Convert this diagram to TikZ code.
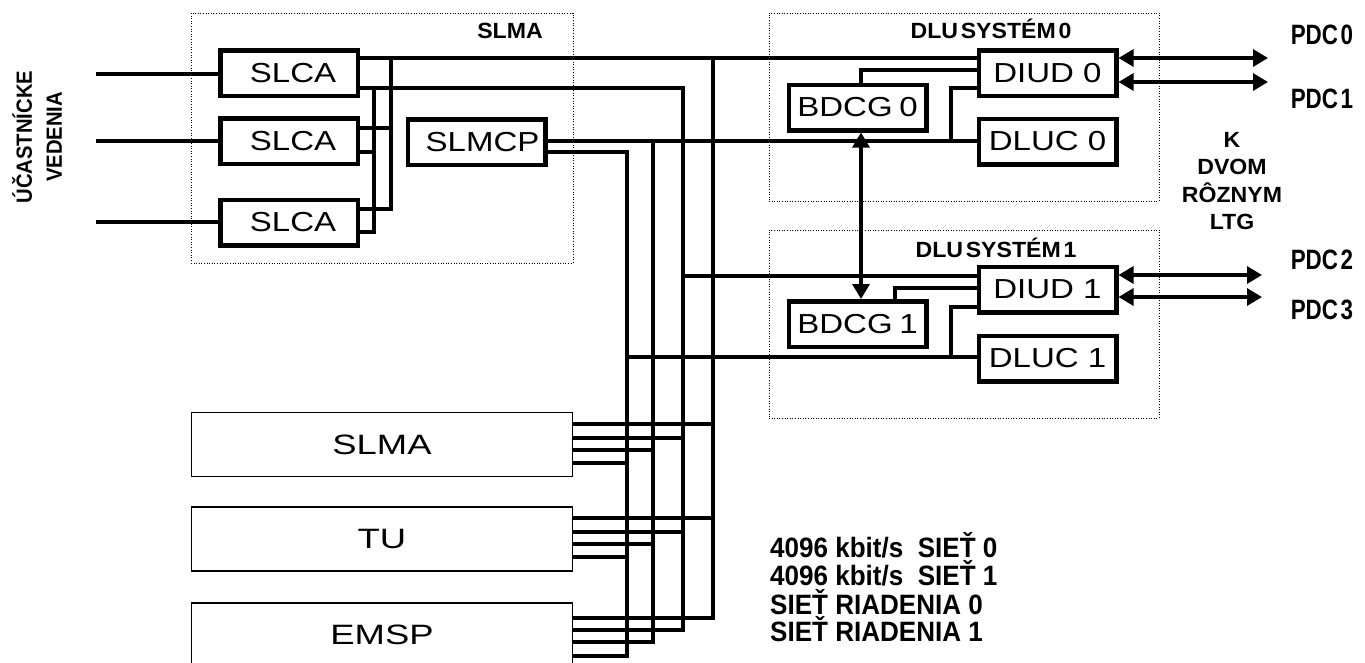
\documentclass[tikz,border=0pt]{standalone}
\usepackage{fontspec}
\setmainfont{Liberation Sans}
\usepackage{graphicx}
\usetikzlibrary{arrows.meta}
\newcommand{\sxa}[1]{\scalebox{1.2}[1]{#1}}
\newcommand{\sxb}[1]{\scalebox{1.3}[1]{#1}}
\newcommand{\sxt}[1]{\scalebox{1.05}[1]{#1}}
\newcommand{\sxu}[1]{\scalebox{0.92}[1]{#1}}
\newcommand{\sxc}[1]{\scalebox{0.8}[1]{#1}}
\newcommand{\sxd}[1]{\scalebox{0.93}[1]{#1}}
\begin{document}
\begin{tikzpicture}[x=1pt,y=-1pt,
  blk/.style={draw, line width=4.5pt, inner sep=0pt, minimum width=137.5pt, minimum height=45.5pt, font=\fontsize{27.5}{29}\selectfont},
  wide/.style={draw, line width=1.4pt, inner sep=0pt, minimum width=381pt, minimum height=64pt, font=\fontsize{28}{30}\selectfont},
  grp/.style={draw, line width=1pt, dash pattern=on 1pt off 1.6pt, inner sep=0pt},
  wire/.style={line width=3.2pt},
  stub/.style={line width=3.6pt},
  bi/.style={line width=3.2pt, {Triangle[length=15pt,width=17pt]}-{Triangle[length=15pt,width=17pt]}},
  ttl/.style={font=\bfseries\fontsize{22}{24}\selectfont, inner sep=0pt},
  cnd/.style={font=\bfseries\fontsize{28}{30}\selectfont, inner sep=0pt},
  lgd/.style={font=\bfseries\fontsize{28}{30}\selectfont, inner sep=0pt, anchor=west}
]
\path[use as bounding box] (0,0) rectangle (1365,662);
\clip (0,0) rectangle (1365,662);

% group frames
\node[grp, minimum width=382pt, minimum height=250pt] (slmaC) at (382,138) {};
\node[grp, minimum width=390pt, minimum height=188pt] (dluC0) at (964,107) {};
\node[grp, minimum width=390pt, minimum height=188pt] (dluC1) at (964,324) {};

% titles
\node[ttl] (tslma) at (510,31) {\sxt{SLMA}};
\node[ttl] (tdlu0) at (991,29) {\sxt{DLU\hspace{0.12em}SYSTÉM\hspace{0.12em}0}};
\node[ttl] (tdlu1) at (996,248) {\sxt{DLU\hspace{0.12em}SYSTÉM\hspace{0.12em}1}};
\node[font=\bfseries\fontsize{22}{30}\selectfont, rotate=90, align=center, inner sep=0pt] (uv) at (37,137) {\sxu{ÚČASTNÍCKE}\\\sxu{VEDENIA}};
\node[font=\bfseries\fontsize{22}{27.3}\selectfont, align=center, inner sep=0pt] (ltg) at (1232,181) {\sxt{K}\\\sxt{DVOM}\\\sxt{RÔZNYM}\\\sxt{LTG}};

% blocks
\node[blk] (slca1) at (289,73) {\hspace*{8pt}\sxa{SLCA}};
\node[blk] (slca2) at (289,141) {\hspace*{8pt}\sxa{SLCA}};
\node[blk] (slca3) at (289,222.5) {\hspace*{8pt}\sxa{SLCA}};
\node[blk] (slmcp) at (476.5,142) {\hspace*{12pt}\sxa{SLMCP}};
\node[blk] (diud0) at (1047.5,73) {\sxa{DIUD 0}};
\node[blk] (bdcg0) at (857.5,107.5) {\sxa{BDCG\hspace{0.2em}0}};
\node[blk] (dluc0) at (1047.5,141.5) {\sxa{DLUC 0}};
\node[blk] (diud1) at (1047.5,289.5) {\sxa{DIUD 1}};
\node[blk] (bdcg1) at (857.5,324) {\sxa{BDCG\hspace{0.2em}1}};
\node[blk] (dluc1) at (1047.5,358.5) {\sxa{DLUC 1}};

\node[wide] (slmab) at (382,444.5) {\sxb{SLMA}};
\node[wide] (tu) at (382,539) {\sxb{TU}};
\node[wide] (emsp) at (382,635) {\sxb{EMSP}};

% subscriber lines
\coordinate (in1) at (96,74);
\coordinate (in2) at (96,141);
\coordinate (in3) at (96,222);
\draw[wire] (in1) -- (slca1.west |- in1);
\draw[wire] (in2) -- (slca2.west |- in2);
\draw[wire] (in3) -- (slca3.west |- in3);

% 4096 kbit/s network 0 (x=713)
\draw[wire] (slca1.east |- 0,58) -- (diud0.west |- 0,58);
\draw[wire] (slca3.east |- 0,209) -| (391,58);
\draw[wire] (slca2.east |- 0,128) -- (391,128);
\draw[wire] (713,58) -- (713,618) -- (emsp.east |- 0,618);

% 4096 kbit/s network 1 (x=683)
\draw[wire] (slca1.east |- 0,88) -| (683,630) -- (emsp.east |- 0,630);
\draw[wire] (slca3.east |- 0,232) -| (374,88);
\draw[wire] (slca2.east |- 0,152) -- (374,152);
\draw[wire] (683,276) -- (diud1.west |- 0,276);

% control network 0 (x=653)
\draw[wire] (slmcp.east |- 0,141) -- (dluc0.west |- 0,141);
\draw[wire] (653,141) -- (653,642) -- (emsp.east |- 0,642);

% control network 1 (x=627)
\draw[wire] (slmcp.east |- 0,152) -| (627,656) -- (emsp.east |- 0,656);
\draw[wire] (627,357) -- (dluc1.west |- 0,357);

% internal DLU links
\draw[wire] (bdcg0.north -| 861,0) |- (diud0.west |- 0,70);
\draw[wire] (diud0.west |- 0,88) -| (951,141);
\draw[wire] (bdcg1.north -| 895,0) |- (diud1.west |- 0,288);
\draw[wire] (diud1.west |- 0,307) -| (951,357);
\draw[bi] (bdcg0.south -| 861,0) -- (bdcg1.north -| 861,0);

% PDC arrows
\coordinate (p0) at (1268,58);
\coordinate (p1) at (1268,82);
\coordinate (p2) at (1262,275);
\coordinate (p3) at (1262,297);
\draw[bi] (diud0.east |- p0) -- (p0);
\draw[bi] (diud0.east |- p1) -- (p1);
\draw[bi] (diud1.east |- p2) -- (p2);
\draw[bi] (diud1.east |- p3) -- (p3);

% stubs of lower boxes
\draw[stub] (slmab.east |- 0,424) -- (713,424);
\draw[stub] (slmab.east |- 0,438) -- (683,438);
\draw[stub] (slmab.east |- 0,450) -- (653,450);
\draw[stub] (slmab.east |- 0,463) -- (627,463);
\draw[stub] (tu.east |- 0,518) -- (713,518);
\draw[stub] (tu.east |- 0,532) -- (683,532);
\draw[stub] (tu.east |- 0,544) -- (653,544);
\draw[stub] (tu.east |- 0,557) -- (627,557);

% PDC labels
\node[cnd] (pdc0) at (1322,35) {\sxc{PDC\hspace{0.12em}0}};
\node[cnd] (pdc1) at (1322,99) {\sxc{PDC\hspace{0.12em}1}};
\node[cnd] (pdc2) at (1322,260) {\sxc{PDC\hspace{0.12em}2}};
\node[cnd] (pdc3) at (1322,310) {\sxc{PDC\hspace{0.12em}3}};

% legend
\node[lgd] (l0) at (770,545) {\sxd{4096 kbit/s\ \ SIEŤ 0}};
\node[lgd] (l1) at (770,573) {\sxd{4096 kbit/s\ \ SIEŤ 1}};
\node[lgd] (l2) at (770,602) {\sxd{SIEŤ RIADENIA 0}};
\node[lgd] (l3) at (770,629) {\sxd{SIEŤ RIADENIA 1}};
\end{tikzpicture}
\end{document}
